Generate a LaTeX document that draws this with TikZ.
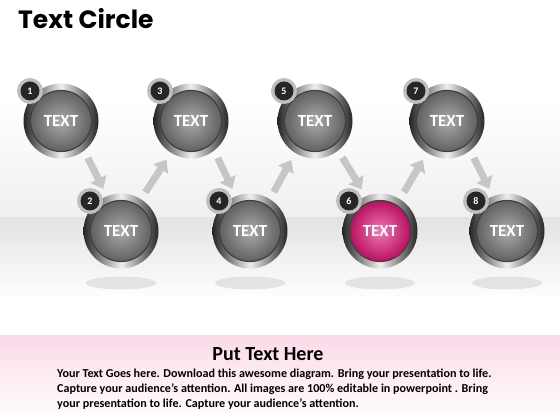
\documentclass[tikz,border=0pt]{standalone}
\usepackage{fontspec}
\setmainfont{Carlito}
\newfontfamily\titlefont{Poppins}
\usetikzlibrary{arrows.meta,shapes.geometric}
\definecolor{pinktop}{HTML}{FBDAE8}
\definecolor{magA}{HTML}{F07AB4}
\definecolor{magB}{HTML}{B8105F}
\tikzset{
  ringbox/.style={circle, minimum size=75pt, inner sep=0pt, left color=black!85, right color=black!85, middle color=gray!12},
  diskbox/.style={circle, minimum size=61pt, inner sep=0pt, draw=black!75, line width=1.2pt, inner color=black!33, outer color=black!62, text=white, font=\bfseries\fontsize{17}{17}\selectfont},
  pinkdisk/.style={diskbox, inner color=magA, outer color=magB},
  badgering/.style={circle, minimum size=26pt, inner sep=0pt, fill=gray!50},
  badgedot/.style={circle, minimum size=19pt, inner sep=0pt, fill=black!85, text=white, font=\bfseries\fontsize{10}{10}\selectfont},
  arrowline/.style={line width=7pt, draw=gray!45, -{Triangle[width=17pt,length=11pt]}, shorten <=8pt, shorten >=8pt},
  shadowell/.style={ellipse, minimum width=70pt, minimum height=13pt, inner sep=0pt, fill=gray!35, opacity=0.55},
}
\begin{document}
\begin{tikzpicture}[x=1pt,y=1pt]
\useasboundingbox (0,0) rectangle (560,420);
\fill[white] (0,0) rectangle (560,420);
\shade[top color=white, bottom color=gray!12] (0,202) rectangle (560,320);
\shade[top color=gray!22, bottom color=white] (0,120) rectangle (560,202);
\shade[top color=pinktop, bottom color=white] (0,0) rectangle (560,84);
% title
\node[anchor=base west, inner sep=0pt, font=\titlefont\bfseries\fontsize{25}{25}\selectfont] (title) at (18,391) {Text Circle};
% shadows
\foreach \x/\n in {121/2,250/4,380/6,507/8}
  \node[shadowell] (s\n) at (\x,137) {};
% circles
\foreach \x/\y/\n in {61/299/1,121/189/2,191/299/3,250/189/4,315/299/5,380/189/6,447/299/7,507/189/8}{
  \node[ringbox] (c\n) at (\x,\y) {};
}
\foreach \n in {1,2,3,4,5,7,8}
  \node[diskbox] (t\n) at (c\n) {TEXT};
\node[pinkdisk] (t6) at (c6) {TEXT};
% badges
\foreach \n in {1,...,8}{
  \node[badgering] (r\n) at ([shift={(-31pt,30pt)}]c\n.center) {};
  \node[badgedot] (b\n) at (r\n) {\n};
}
% arrows
\draw[arrowline] (c1.-52) -- (c2.112);
\draw[arrowline] (c2.58) -- (c3.-122);
\draw[arrowline] (c3.-52) -- (c4.112);
\draw[arrowline] (c4.58) -- (c5.-122);
\draw[arrowline] (c5.-52) -- (c6.112);
\draw[arrowline] (c6.58) -- (c7.-122);
\draw[arrowline] (c7.-52) -- (c8.112);
% text block
\node[anchor=base, font=\bfseries\fontsize{20}{20}\selectfont, inner sep=0pt] (head) at (268,59) {Put Text Here};
\node[anchor=north west, inner sep=0pt, align=left, font=\bfseries\fontsize{12.1}{15}\selectfont] (body) at (57,51) {Your Text Goes here. Download this awesome diagram. Bring your presentation to life.\\Capture your audience’s attention. All images are 100\% editable in powerpoint . Bring\\your presentation to life. Capture your audience’s attention.};
\end{tikzpicture}
\end{document}
